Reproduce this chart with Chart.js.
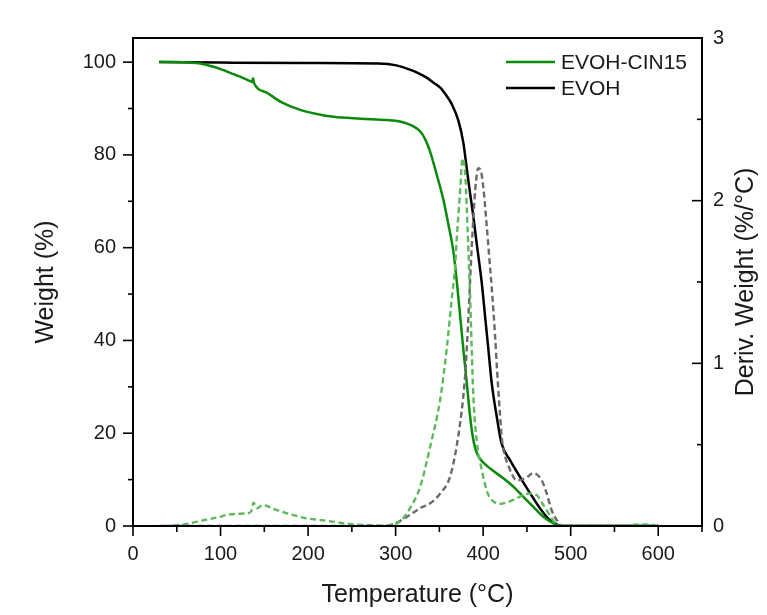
<!DOCTYPE html>
<html>
<head>
<meta charset="utf-8">
<script src="https://cdn.jsdelivr.net/npm/chart.js@4.4.1/dist/chart.umd.min.js"></script>
<style>
  html, body { margin: 0; padding: 0; background: #fff; }
  #wrap { width: 767px; height: 615px; }
</style>
</head>
<body>
<div id="wrap"><canvas id="tgaChart" width="767" height="615"></canvas></div>
<script>
// Series labels
const seriesNames = ['EVOH-CIN15', 'EVOH'];

// TGA curve of EVOH-CIN15 (temperature in °C, weight in %)
const cinTgaTemp = [30, 50, 65, 77, 90, 100, 115, 128, 134, 136, 137, 138.5, 153, 170, 191, 210, 229, 260, 290, 305, 314, 320, 328, 334, 339.4, 347, 354.6, 360.3, 366, 370, 373.6, 377.4, 381.3, 385, 388, 391, 395, 400, 408, 423, 434.5, 446, 457, 468.7, 480, 488, 500, 550, 600];
const cinTgaWeight = [100, 100, 99.9, 99.7, 99.1, 98.5, 97.4, 96.4, 95.9, 95.7, 96.5, 95.4, 93.4, 91.3, 89.7, 88.8, 88.2, 87.8, 87.5, 87.2, 86.7, 86.2, 85.1, 83.3, 80.7, 75.7, 70.3, 65.0, 59.2, 52.5, 45.5, 38.0, 30.8, 23.8, 19.4, 16.7, 14.9, 13.7, 12.4, 10.3, 8.5, 6.3, 4.2, 2.0, 0.6, 0, 0, 0, 0];

// TGA curve of EVOH
const evohTgaTemp = [30, 100, 200, 280, 301, 313, 324, 335, 343, 351, 358, 364, 371.7, 377.4, 381.3, 385, 388.8, 392.7, 398.4, 402.2, 406, 409.8, 415.5, 421, 430.7, 442, 453.5, 465, 476, 486, 495, 550, 600];
const evohTgaWeight = [100, 99.9, 99.8, 99.7, 99.3, 98.6, 97.8, 96.7, 95.6, 94.5, 92.8, 91.0, 87.4, 82.6, 77.0, 71.8, 66.7, 60.8, 52.4, 45.2, 38.0, 30.8, 23.6, 17.8, 14.2, 10.6, 7.1, 3.8, 1.3, 0.2, 0, 0, 0];

// DTG curve of EVOH-CIN15 (deriv. weight in %/°C)
const cinDtgTemp = [35, 58, 80, 100, 107, 120, 130, 135, 137.7, 141.5, 148.4, 160.5, 176, 198.6, 214, 230, 248, 270, 286, 296, 305, 316.5, 328, 340, 351, 358.4, 364, 368, 370, 373.6, 376.5, 379.3, 381.3, 383, 385, 387, 388.8, 392.7, 398.4, 402, 406, 412, 419, 434.5, 446, 452, 461, 468.7, 478, 486, 500, 560, 575, 590, 600];
const cinDtgDeriv = [0, 0.01, 0.035, 0.057, 0.068, 0.075, 0.078, 0.09, 0.144, 0.109, 0.13, 0.105, 0.078, 0.047, 0.037, 0.025, 0.012, 0.005, 0.002, 0.008, 0.027, 0.11, 0.24, 0.5, 0.78, 1.09, 1.39, 1.6, 1.78, 2.05, 2.26, 2.18, 1.95, 1.72, 1.42, 1.08, 0.8, 0.52, 0.345, 0.26, 0.19, 0.15, 0.136, 0.16, 0.19, 0.2, 0.19, 0.13, 0.05, 0, 0, 0, 0.01, 0.01, 0];

// DTG curve of EVOH
const evohDtgTemp = [30, 100, 200, 280, 294, 313, 328, 339.5, 351, 362, 370, 377.4, 380, 383, 387, 391, 394.5, 397, 400, 404, 407, 410, 413.5, 416, 419.3, 421.5, 424, 428.8, 438.4, 450, 457, 467, 472.6, 478, 484, 490, 550, 600];
const evohDtgDeriv = [0, 0, 0, 0, 0.006, 0.057, 0.11, 0.14, 0.2, 0.3, 0.5, 0.8, 0.97, 1.27, 1.72, 2.07, 2.2, 2.19, 2.09, 1.85, 1.65, 1.45, 1.18, 0.95, 0.68, 0.53, 0.45, 0.37, 0.28, 0.3, 0.325, 0.28, 0.2, 0.1, 0.037, 0, 0, 0];

// Axis ticks
const tempTicks = [0, 100, 200, 300, 400, 500, 600];
const weightTicks = [0, 20, 40, 60, 80, 100];
const derivTicks = [0, 1, 2, 3];

const FONT = "'Liberation Sans', Arial, sans-serif";
const green = '#0a8a0a';
const lightGreen = '#5cba5c';
const grey = '#6a6a6a';

function toPoints(xs, ys) {
    return xs.map((x, i) => ({ x: x, y: ys[i] }));
}

// White background
const bgPlugin = {
    id: 'bg',
    beforeDraw(chart) {
        const ctx = chart.ctx;
        ctx.save();
        ctx.fillStyle = '#fff';
        ctx.fillRect(0, 0, chart.width, chart.height);
        ctx.restore();
    }
};

// Frame, tick marks, legend and right axis title
const decoPlugin = {
    id: 'deco',
    afterDraw(chart) {
        const { ctx, chartArea: a, scales } = chart;
        ctx.save();
        ctx.strokeStyle = '#000';
        ctx.lineCap = 'butt';

        function seg(x1, y1, x2, y2) {
            ctx.beginPath();
            ctx.moveTo(x1, y1);
            ctx.lineTo(x2, y2);
            ctx.stroke();
        }

        ctx.lineWidth = 1.6;
        // bottom axis ticks (outward)
        tempTicks.forEach(v => {
            const px = scales.x.getPixelForValue(v);
            seg(px, a.bottom, px, a.bottom + 10);
            const m = scales.x.getPixelForValue(v + 50);
            if (m <= a.right + 0.5) seg(m, a.bottom, m, a.bottom + 6);
        });
        // left axis ticks (outward)
        weightTicks.forEach(v => {
            const py = scales.y.getPixelForValue(v);
            seg(a.left, py, a.left - 10, py);
            const m = scales.y.getPixelForValue(v + 10);
            if (m >= a.top) seg(a.left, m, a.left - 5, m);
        });
        // right axis ticks (inward)
        derivTicks.forEach(v => {
            const py = scales.y2.getPixelForValue(v);
            seg(a.right, py, a.right - 10, py);
            const m = scales.y2.getPixelForValue(v + 0.5);
            if (m >= a.top) seg(a.right, m, a.right - 5, m);
        });

        // frame
        ctx.lineWidth = 2;
        ctx.strokeRect(a.left, a.top, a.right - a.left, a.bottom - a.top);

        // legend
        const legendRows = [
            { label: seriesNames[0], color: green, y: 62 },
            { label: seriesNames[1], color: '#000', y: 88 }
        ];
        ctx.font = '21px ' + FONT;
        ctx.textBaseline = 'middle';
        ctx.textAlign = 'left';
        legendRows.forEach(r => {
            ctx.strokeStyle = r.color;
            ctx.lineWidth = 2.6;
            seg(506, r.y, 555, r.y);
            ctx.fillStyle = '#1a1a1a';
            ctx.fillText(r.label, 561, r.y + 1);
        });

        // right axis title, reading bottom to top
        ctx.translate(746, (a.top + a.bottom) / 2);
        ctx.rotate(-Math.PI / 2);
        ctx.font = '25px ' + FONT;
        ctx.textAlign = 'center';
        ctx.fillStyle = '#1a1a1a';
        ctx.fillText('Deriv. Weight (%/°C)', 0, 0);
        ctx.restore();
    }
};

const ctx = document.getElementById('tgaChart').getContext('2d');

new Chart(ctx, {
    type: 'line',
    data: {
        datasets: [
            {
                label: seriesNames[0] + ' DTG',
                data: toPoints(cinDtgTemp, cinDtgDeriv),
                yAxisID: 'y2',
                borderColor: lightGreen,
                borderWidth: 2.4,
                borderDash: [6, 3.5]
            },
            {
                label: seriesNames[1] + ' DTG',
                data: toPoints(evohDtgTemp, evohDtgDeriv),
                yAxisID: 'y2',
                borderColor: grey,
                borderWidth: 2.4,
                borderDash: [6, 3.5]
            },
            {
                label: seriesNames[0],
                data: toPoints(cinTgaTemp, cinTgaWeight),
                yAxisID: 'y',
                borderColor: green,
                borderWidth: 2.5
            },
            {
                label: seriesNames[1],
                data: toPoints(evohTgaTemp, evohTgaWeight),
                yAxisID: 'y',
                borderColor: '#000',
                borderWidth: 2.5
            }
        ]
    },
    options: {
        responsive: false,
        animation: false,
        events: [],
        elements: {
            point: { radius: 0 },
            line: { cubicInterpolationMode: 'monotone', fill: false }
        },
        layout: {
            padding: { top: 38, left: 0, right: 0, bottom: 0 }
        },
        scales: {
            x: {
                type: 'linear',
                min: 0,
                max: 650,
                grid: { display: false, drawTicks: false },
                border: { display: false },
                ticks: {
                    stepSize: 100,
                    includeBounds: false,
                    autoSkip: false,
                    maxRotation: 0,
                    padding: 16,
                    color: '#1a1a1a',
                    font: { family: FONT, size: 20 }
                },
                title: {
                    display: true,
                    text: 'Temperature (°C)',
                    color: '#1a1a1a',
                    font: { family: FONT, size: 25, lineHeight: 1.2 },
                    padding: { top: 0, bottom: 5 }
                },
                afterFit(scale) { scale.height = 89; }
            },
            y: {
                position: 'left',
                min: 0,
                max: 105.2,
                grid: { display: false, drawTicks: false },
                border: { display: false },
                ticks: {
                    stepSize: 20,
                    includeBounds: false,
                    autoSkip: false,
                    padding: 17,
                    color: '#1a1a1a',
                    font: { family: FONT, size: 20 },
                    callback: v => (weightTicks.includes(v) ? v : '')
                },
                title: {
                    display: true,
                    text: 'Weight (%)',
                    color: '#1a1a1a',
                    font: { family: FONT, size: 25, lineHeight: 1.2 },
                    padding: { top: 31, bottom: 0 }
                },
                afterFit(scale) { scale.width = 133; }
            },
            y2: {
                position: 'right',
                min: 0,
                max: 3,
                grid: { display: false, drawTicks: false },
                border: { display: false },
                ticks: {
                    stepSize: 1,
                    autoSkip: false,
                    padding: 11,
                    color: '#1a1a1a',
                    font: { family: FONT, size: 20 },
                    callback: v => (derivTicks.includes(v) ? v : '')
                },
                afterFit(scale) { scale.width = 65; }
            }
        },
        plugins: {
            legend: { display: false },
            tooltip: { enabled: false }
        }
    },
    plugins: [bgPlugin, decoPlugin]
});
</script>
</body>
</html>
